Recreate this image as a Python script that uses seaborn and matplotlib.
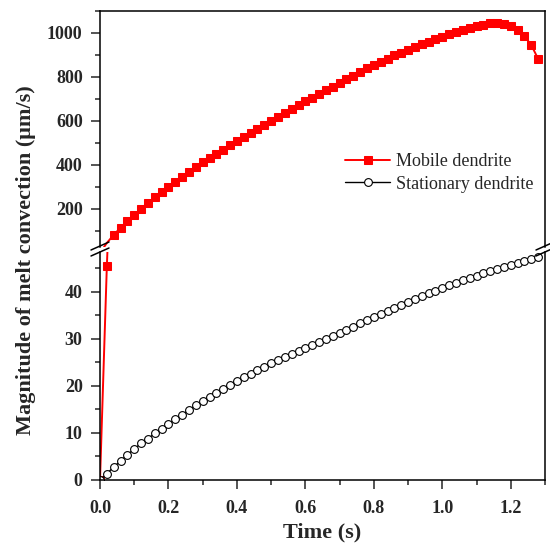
import matplotlib
matplotlib.use('Agg')
import matplotlib.pyplot as plt
import seaborn as sns
import numpy as np
import pandas as pd
from matplotlib.ticker import MultipleLocator
from matplotlib.lines import Line2D

# time axis (s), one sample every 0.02 s
time_s = [round(0.02 * i, 2) for i in range(65)]

# mobile dendrite, melt convection (um/s)
mobile = [0, 45.5, 82, 115, 145, 174, 202, 228, 253, 277,
          300, 323, 345, 367, 392, 413, 432, 451, 470, 489,
          508, 527, 545, 564, 582, 600, 618, 636, 654, 672,
          689, 706, 723, 739, 756, 772, 789, 806, 823, 840,
          856, 870, 884, 898, 911, 924, 936, 948, 960, 972,
          984, 995, 1005, 1014, 1022, 1031, 1038, 1044, 1045, 1040,
          1030, 1012, 985, 945, 882]

# stationary dendrite, melt convection (um/s)
stationary = [0.0, 1.3, 2.8, 4.0, 5.4, 6.6, 7.8, 8.8, 9.9, 10.9,
              11.9, 12.9, 13.9, 14.9, 15.9, 16.8, 17.7, 18.6, 19.4, 20.3,
              21.1, 21.9, 22.6, 23.4, 24.1, 24.8, 25.5, 26.1, 26.8, 27.4,
              28.0, 28.7, 29.3, 29.9, 30.6, 31.2, 31.9, 32.6, 33.3, 34.0,
              34.7, 35.3, 35.9, 36.6, 37.2, 37.9, 38.5, 39.1, 39.7, 40.3,
              40.9, 41.5, 42.0, 42.5, 43.0, 43.5, 44.0, 44.4, 44.9, 45.3,
              45.7, 46.2, 46.6, 47.0, 47.5]

df = pd.DataFrame({'time': time_s, 'mobile': mobile, 'stationary': stationary})

sns.set_style('ticks')
plt.rcParams['font.family'] = ['Liberation Serif', 'DejaVu Serif']
plt.rcParams['axes.linewidth'] = 1.1

W, H = 550, 555
fig = plt.figure(figsize=(W / 100, H / 100), dpi=100)

def px_axes(x0, y0, x1, y1):
    # pixel box (top-left origin) -> figure axes
    return fig.add_axes([x0 / W, 1 - y1 / H, (x1 - x0) / W, (y1 - y0) / H])

ax_top = px_axes(100, 11, 545, 247)
ax_bot = px_axes(100, 252, 545, 480)

red_kw = dict(color='red', marker='s', markersize=6.0, markeredgecolor='red',
              linewidth=1.4)
blk_kw = dict(color='black', marker='o', markersize=5.6, markerfacecolor='white',
              markeredgecolor='black', markeredgewidth=0.8, linewidth=1.0)

# upper panel: only the mobile dendrite reaches it; points below the break get no marker
sns.lineplot(data=df, x='time', y='mobile', ax=ax_top, legend=False,
             markevery=slice(2, None), **red_kw)
# lower panel
sns.lineplot(data=df, x='time', y='mobile', ax=ax_bot, label='Mobile dendrite', **red_kw)
sns.lineplot(data=df, x='time', y='stationary', ax=ax_bot, label='Stationary dendrite', **blk_kw)

for ax in (ax_top, ax_bot):
    ax.set_xlim(0, 1.3)
    ax.set_xlabel('')
    ax.set_ylabel('')
    ax.xaxis.set_major_locator(MultipleLocator(0.2))
    ax.xaxis.set_minor_locator(MultipleLocator(0.1))
    ax.tick_params(which='major', length=6.5, width=1.1, labelsize=13)
    ax.tick_params(which='minor', length=3.6, width=1.1)
    ax.tick_params(axis='y', which='major', pad=6)
    ax.tick_params(axis='x', which='major', pad=8)
    for s in ax.spines.values():
        s.set_color('black')

ax_top.set_ylim(27, 1100)
ax_top.yaxis.set_major_locator(MultipleLocator(200))
ax_top.yaxis.set_minor_locator(MultipleLocator(100))
ax_top.spines['bottom'].set_visible(False)
ax_top.tick_params(axis='x', which='both', bottom=False, labelbottom=False)

ax_bot.set_ylim(0, 48.5)
ax_bot.yaxis.set_major_locator(MultipleLocator(10))
ax_bot.yaxis.set_minor_locator(MultipleLocator(5))
ax_bot.spines['top'].set_visible(False)

ax_top.set_yticks([200, 400, 600, 800, 1000])
for ax in (ax_top, ax_bot):
    for lab in ax.get_xticklabels() + ax.get_yticklabels():
        lab.set_fontweight('bold')

ax_bot.legend(loc='upper left', bbox_to_anchor=(345 / W, 1 - 153 / H),
              bbox_transform=fig.transFigure, frameon=False, fontsize=13,
              handlelength=2.5, handletextpad=0.3, labelspacing=0.32,
              borderpad=0, borderaxespad=0)

# break marks
for xp in (100, 545):
    for yp in (246, 252):
        fig.add_artist(Line2D([(xp - 9) / W, (xp + 9) / W],
                              [1 - (yp + 4) / H, 1 - (yp - 4) / H],
                              color='black', linewidth=1.1))

ax_bot.set_xlabel('Time (s)', fontsize=16, fontweight='bold', labelpad=4)
fig.text(26 / W, 1 - 260 / H, 'Magnitude of melt convection (\u03bcm/s)',
         rotation=90, ha='center', va='center', fontsize=16, fontweight='bold')

fig.savefig('out.png', dpi=100)
